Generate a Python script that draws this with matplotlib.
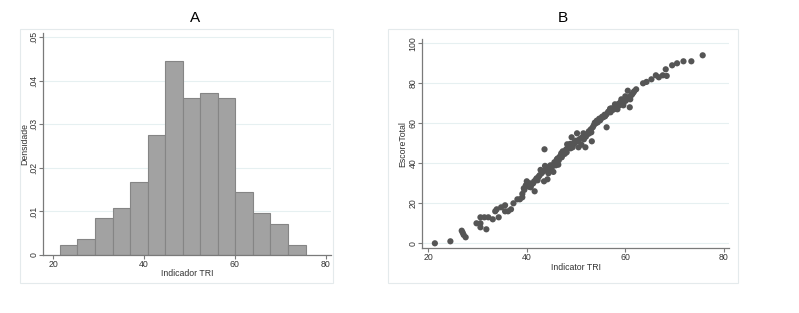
import matplotlib
matplotlib.use("Agg")
import matplotlib.pyplot as plt
from matplotlib.patches import Rectangle

plt.rcParams['font.family'] = ['Liberation Sans', 'DejaVu Sans']

# Histogram (panel A)
bin_start = 21.47
bin_width = 3.863
densities = [0.0023, 0.0036, 0.0084, 0.0108, 0.0168, 0.0276, 0.0445,
             0.0360, 0.0372, 0.0360, 0.0144, 0.0096, 0.0072, 0.0023]

# Scatter (panel B)
tri = [21.35, 24.5, 26.8, 27.0, 27.2, 27.6, 29.8, 30.6, 30.6, 30.6, 31.4, 31.8, 32.2,
       33.1, 33.6, 33.9, 34.3, 34.8, 35.6, 35.6, 36.2, 36.8, 37.3, 38.1, 38.6, 39.1,
       39.1, 39.5, 39.8, 40.0, 40.4, 40.8, 41.3, 41.6, 41.9, 42.4, 42.8, 43.5, 43.6,
       43.7, 44.2, 44.4, 44.7, 45.1, 45.4, 45.8, 46.1, 46.4, 46.7, 47.0, 47.3, 47.7,
       48.0, 48.4, 48.8, 49.1, 49.3, 49.6, 50.0, 50.2, 50.5, 51.1, 51.5, 51.9, 52.0,
       52.5, 52.8, 53.2, 53.4, 53.8, 54.2, 54.7, 55.3, 55.8, 56.2, 56.5, 56.9, 57.4,
       58.0, 58.6, 59.2, 59.6, 60.1, 60.5, 60.9, 61.1, 61.6, 62.2, 63.6, 64.3, 65.3,
       66.2, 66.8, 67.6, 68.2, 68.4, 69.5, 70.5, 71.8, 73.4, 75.7,
       44.9, 45.3, 45.6, 46.0, 46.3, 46.5, 46.9, 47.1, 47.5, 47.8, 48.1, 48.3, 48.6,
       48.9, 49.2, 49.5, 49.8, 50.3, 50.7, 51.0, 51.3, 51.7, 52.2, 52.6, 53.0, 53.6,
       54.0, 54.4, 54.9, 55.1, 55.5, 55.9, 56.2, 56.7, 57.0, 57.2, 57.7, 58.2, 58.4,
       58.8, 59.0, 59.4, 59.8, 60.3, 60.7, 61.0, 61.4, 61.8, 41.0, 41.5, 42.0, 42.6,
       43.0, 43.4, 43.9, 44.3, 39.4, 40.2, 40.6, 42.2, 44.8, 45.9, 47.2, 48.2, 51.6,
       53.1, 57.9, 59.6, 60.0]
escore = [0, 1, 6.3, 5.3, 4.2, 3, 10, 13, 10, 8, 13, 7, 13,
          12, 16, 17, 13, 18, 19, 16, 16, 17, 20, 22, 22, 23,
          24.7, 26.7, 29, 31, 28.3, 28, 30, 26, 32, 33.3, 36.7, 31, 47,
          38.7, 32, 35, 36.3, 38, 35.7, 40, 42, 39.3, 43.3, 45, 46, 44.7,
          47, 48.3, 49.7, 53, 48, 50.3, 51.3, 55, 48, 49.3, 55, 48, 53.3,
          54.7, 55.3, 51, 58, 60.3, 61.3, 62.3, 63.3, 64.3, 58, 65.7, 67.3, 66.7,
          68.3, 69.7, 72, 70, 71.3, 76.3, 68, 73.7, 75.3, 77, 80, 80.7, 82,
          84, 83, 84, 87, 83.7, 89, 90, 91, 91, 94,
          37.5, 39, 40.5, 41, 42.5, 41.5, 44, 43, 45.5, 46, 45.5, 47.5, 48,
          47.5, 49, 49.5, 50.5, 51, 52, 52.5, 53, 54, 54.5, 56, 57, 59,
          60, 60.5, 61.5, 62.5, 63, 63.5, 64.5, 66, 65.5, 67.5, 67, 68, 67,
          69, 70.5, 71, 71.5, 72.5, 73, 72, 74.5, 76, 29.5, 31, 32.5, 34,
          35, 36, 37, 38, 27.5, 29.5, 30, 31.5, 39, 39, 44, 49.5, 52,
          55.5, 69.5, 69, 73.5]

x_ticks = [20, 40, 60, 80]
a_yticks = [0, 0.01, 0.02, 0.03, 0.04, 0.05]
a_yticklabels = ['0', '.01', '.02', '.03', '.04', '.05']
b_yticks = [0, 20, 40, 60, 80, 100]

W, H = 799, 313
fig = plt.figure(figsize=(W / 100, H / 100), dpi=100)
fig.patch.set_facecolor('white')

def fx(px):
    return px / W

def fy(py):
    return 1 - py / H

# outer frames
for (x0, y0, x1, y1) in [(20, 29, 333, 283), (388, 29, 738, 283)]:
    fig.patches.append(Rectangle((fx(x0), fy(y1)), fx(x1) - fx(x0), fy(y0) - fy(y1),
                                 transform=fig.transFigure, fill=False,
                                 edgecolor='#e4eaec', linewidth=0.8, zorder=0))

axis_col = '#7a7a7a'
text_col = '#333333'
grid_col = '#e6f0f1'
fs = 6.3

def style(ax):
    for s in ['top', 'right']:
        ax.spines[s].set_visible(False)
    for s in ['left', 'bottom']:
        ax.spines[s].set_color(axis_col)
        ax.spines[s].set_linewidth(0.9)
    ax.tick_params(axis='both', colors=axis_col, length=2.8, width=0.8,
                   labelsize=fs, labelcolor=text_col, pad=0.6)
    ax.set_facecolor('white')
    ax.set_axisbelow(True)
    ax.yaxis.grid(True, color=grid_col, linewidth=0.8)
    for lab in ax.get_yticklabels():
        lab.set_rotation(90)
        lab.set_va('center')

# Panel A
axA_w = 331 - 43
axA_h = 255 - 33
axA = fig.add_axes([fx(43), fy(255), fx(331) - fx(43), fy(33) - fy(255)])
lefts = [bin_start + i * bin_width for i in range(len(densities))]
axA.bar(lefts, densities, width=bin_width, align='edge', color='#a2a2a2',
        edgecolor='#858585', linewidth=0.8)
axA.set_xlim(17.74, 81.16)
axA.set_ylim(0, 0.051)
axA.set_xticks(x_ticks)
axA.set_yticks(a_yticks)
axA.set_yticklabels(a_yticklabels)
style(axA)
axA.set_xlabel('Indicador TRI', fontsize=fs, color=text_col)
axA.set_ylabel('Densidade', fontsize=fs, color=text_col)
axA.xaxis.set_label_coords(0.5, -(273.5 - 255) / axA_h)
axA.yaxis.set_label_coords(-(43 - 25.0) / axA_w, 0.5)
axA.xaxis.label.set_va('center')
axA.yaxis.label.set_va('center')

# Panel B
axB_w = 729.3 - 422.3
axB_h = 248.3 - 39.3
axB = fig.add_axes([fx(422.3), fy(248.3), fx(729.3) - fx(422.3), fy(39.3) - fy(248.3)])
axB.scatter(tri, escore, s=20, color='#555555', edgecolors='none', zorder=3)
axB.set_xlim(18.8, 81.1)
axB.set_ylim(-2.5, 102)
axB.set_xticks(x_ticks)
axB.set_yticks(b_yticks)
style(axB)
axB.set_xlabel('Indicator TRI', fontsize=fs, color=text_col)
axB.set_ylabel('EscoreTotal', fontsize=fs, color=text_col)
axB.xaxis.set_label_coords(0.5, -(268 - 248.3) / axB_h)
axB.yaxis.set_label_coords(-(422.3 - 403.0) / axB_w, 0.5)
axB.xaxis.label.set_va('center')
axB.yaxis.label.set_va('center')

fig.text(fx(195), fy(18), 'A', ha='center', va='center', fontsize=11, color='black')
fig.text(fx(563), fy(18), 'B', ha='center', va='center', fontsize=11, color='black')

fig.savefig('out.png', dpi=100, facecolor='white')
